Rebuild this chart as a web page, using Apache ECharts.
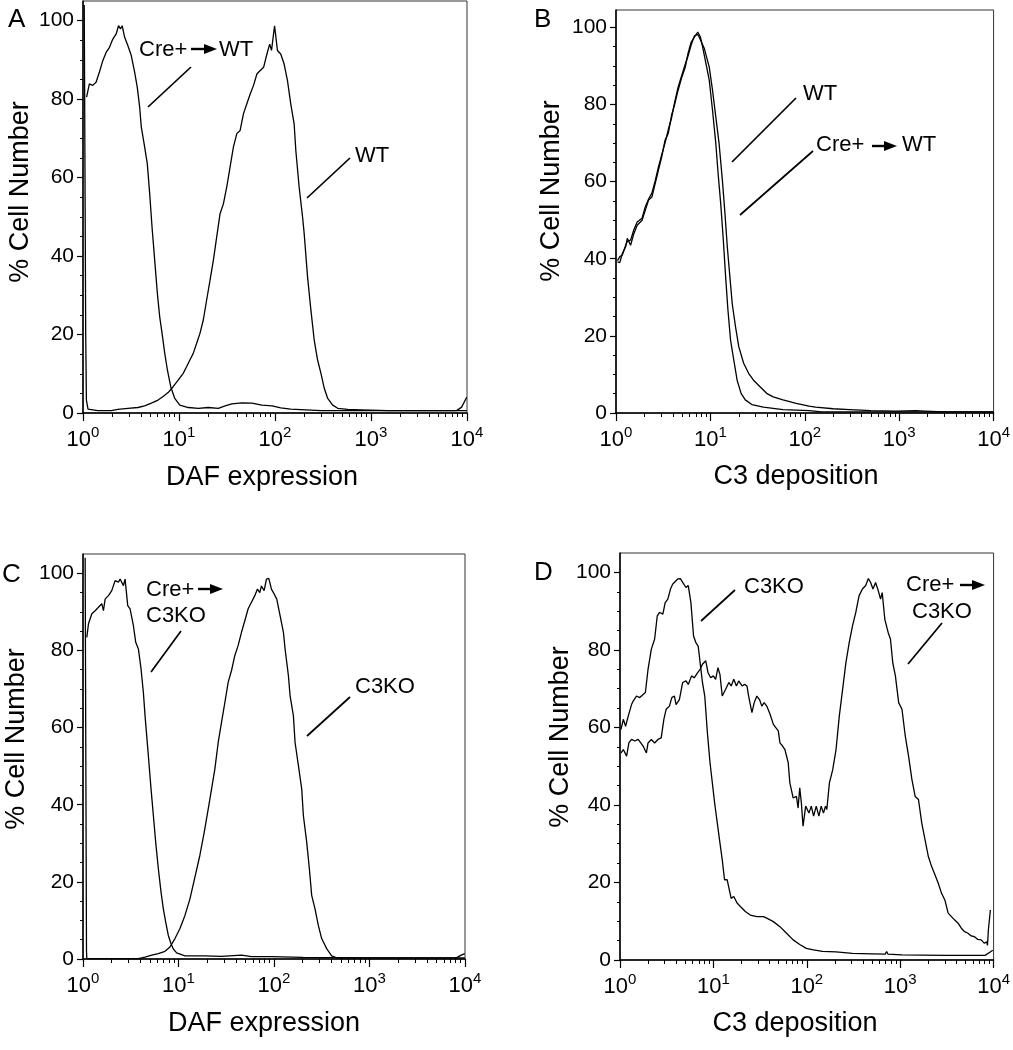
<!DOCTYPE html>
<html><head><meta charset="utf-8">
<script src="https://cdn.jsdelivr.net/npm/echarts@6/dist/echarts.min.js"></script>
<style>html,body{margin:0;padding:0;background:#fff}#c{width:1013px;height:1050px}</style>
</head><body><div id="c"></div><script>
const FONT = "'Liberation Sans', Arial, sans-serif";

// tick values
const xMinorTicks = [2,3,4,5,6,7,8,9,20,30,40,50,60,70,80,90,200,300,400,500,600,700,800,900,2000,3000,4000,5000,6000,7000,8000,9000];
const yMajorTicks = [0,20,40,60,80,100];
const yMinorTicks = [5,10,15,25,30,35,45,50,55,65,70,75,85,90,95];

// texts
const panelLetters = ['A','B','C','D'];
const xTitles = ['DAF expression','C3 deposition','DAF expression','C3 deposition'];
const yTitle = '% Cell Number';

// Panel A
const aCre = [[1.09,80.5],[1.165,83.9],[1.262,83.5],[1.368,84.3],[1.483,86.9],[1.607,89.8],[1.741,91.9],[1.887,93.2],[2.045,95.3],[2.216,96.6],[2.344,98.7],[2.46,97.9],[2.561,98.7],[2.71,95.8],[2.937,93.6],[3.183,91.1],[3.45,86.9],[3.676,83],[3.89,78],[4.046,72.9],[4.386,67.8],[4.677,63.5],[4.95,55.9],[5.236,47.4],[5.585,38.9],[5.955,30.4],[6.295,24.5],[6.664,20.3],[7.106,15.2],[7.578,10.9],[8.204,6.7],[9.036,3.7],[10.2,2.0],[12.5,1.4],[15.9,1.2],[20.2,1.4],[25.7,1.2],[30.2,1.8],[35.5,2.3],[45.1,2.6],[57.4,2.5],[73.1,2.0],[93.1,1.8],[114.7,1.3],[146,1.0],[301,0.6],[1005,0.6],[3357,0.6],[7798,0.6],[8790,1.5],[9930,4.0]];
const aWT = [[1.03,104],[1.067,20],[1.085,3.3],[1.128,1.0],[1.175,0.5],[1.425,0.6],[1.963,0.6],[2.307,0.9],[2.937,1.2],[3.735,1.4],[4.387,1.8],[5.153,2.5],[6.053,3.3],[6.827,4.2],[7.7,5.2],[8.69,6.7],[9.8,8.4],[11.06,10.1],[11.99,11.8],[12.98,13.5],[14.07,15.2],[15.25,17.7],[16.53,20.3],[17.91,23.7],[19.41,28.8],[21.03,33.8],[22.79,38.9],[24.7,44.9],[26.77,50.8],[29.0,53.3],[31.43,57.6],[34.06,62.7],[36.91,67.8],[40.0,71.2],[43.34,72.0],[46.97,76.3],[50.9,78.8],[55.16,81.3],[59.77,83.5],[64.77,86.4],[70.19,87.3],[76.06,88.1],[82.4,91.5],[88,94],[92,92.4],[99,98.7],[106,92.4],[114.7,91.5],[124.3,89],[134.9,84.7],[145.9,78.8],[158.2,73.7],[164.8,66.9],[178.4,57.6],[193.6,50],[201.4,45.7],[218.3,34.7],[236.6,26.2],[256.1,18.6],[277.7,13.5],[301,10.1],[326,6.3],[354,3.7],[399,2.0],[450,1.2],[573,0.9],[789,0.8],[1503,0.6],[9950,0.6]];

// Panel B
const bWT = [[1.037,39.2],[1.096,39.0],[1.169,41.4],[1.266,43.1],[1.318,45.3],[1.427,43.5],[1.546,46.5],[1.675,48.7],[1.888,50],[2.045,52.6],[2.215,55.2],[2.399,56],[2.6,59.5],[2.817,63],[3.051,66.4],[3.305,70.7],[3.58,72.5],[3.878,77.2],[4.201,80.2],[4.55,83.7],[4.929,86.7],[5.423,89.7],[5.783,93.2],[6.265,96.2],[6.786,97.5],[7.351,98.8],[7.834,97.5],[8.28,94.9],[8.975,90.6],[9.723,86.3],[10.53,78.5],[11.41,69.9],[12.07,62.1],[12.86,54.3],[13.71,44.8],[14.5,35.3],[15.34,26.7],[16.35,18.9],[17.7,13.7],[19.19,8.5],[21.13,5.1],[23.43,3.4],[27.49,2.2],[36.38,1.5],[58.75,0.9],[111.3,0.6],[150,0.3],[1000,0.3],[9950,0.3]];
const bCre = [[1.037,39.5],[1.096,40.5],[1.169,41],[1.266,43.5],[1.318,44.5],[1.427,44.8],[1.546,47.5],[1.675,49.5],[1.888,50.5],[2.045,53.5],[2.215,55.5],[2.399,57],[2.6,60.2],[2.817,63.8],[3.051,67],[3.305,70],[3.58,73.5],[3.878,76.5],[4.201,80.8],[4.55,84.5],[4.929,87.3],[5.423,90.5],[5.783,92.5],[6.265,95.5],[6.786,97.8],[7.351,98.2],[7.834,96.8],[8.627,94.5],[8.975,94],[9.723,89.7],[10.53,83.7],[11.41,76.8],[12.36,69.9],[13.39,60.4],[14.27,51.7],[15.1,43.1],[16.09,35.3],[17.02,28.4],[18.44,22.4],[19.98,17.2],[22.5,12.9],[25.38,10.3],[28.62,8.5],[33.58,6.8],[39.4,5.1],[46.24,4.2],[58.75,3.4],[80.91,2.5],[111,1.8],[130,1.5],[200,1.1],[298,0.9],[500,0.6],[918,0.5],[1500,0.6],[1888,0.5],[3000,0.3],[9950,0.3]];

// Panel C
const cCre = [[1.096,83.4],[1.141,86.9],[1.237,89.5],[1.34,90.3],[1.452,91.2],[1.573,92.1],[1.637,90.3],[1.704,93.3],[1.847,94.2],[2.001,95.5],[2.169,98.1],[2.35,97.7],[2.446,98.5],[2.65,96.8],[2.758,98.5],[2.941,91.6],[3.111,90.8],[3.371,86.4],[3.566,82.1],[3.802,80.4],[4.054,75.2],[4.288,69.1],[4.463,63.1],[4.645,57.9],[4.835,52.7],[5.157,44.1],[5.455,37.2],[5.768,30.3],[6.151,23.4],[6.558,17.4],[6.937,13],[7.337,9.6],[7.823,6.1],[8.341,4.0],[8.824,2.6],[9.561,1.6],[11.68,0.8],[18.91,0.8],[28.23,0.7],[45.66,1.0],[58.08,0.6],[94,0.6],[200,0.4],[1000,0.3],[8125,0.3],[8803,0.8],[9929,1.4]];
const cKO = [[1.053,104],[1.088,2],[1.096,0.1],[2,0.1],[3.8,0.1],[4.463,0.5],[5.24,1.0],[6.15,1.4],[7.22,2.0],[8.14,3.1],[9.183,5.3],[10.36,7.9],[11.68,11.3],[13.18,15.6],[14.86,21.2],[16.75,26.9],[18.61,32.9],[20.48,38.9],[22.2,44.1],[24.04,49.3],[26.06,56.2],[28.23,61.4],[30.59,66.5],[33.14,71.8],[35.92,74.8],[38.9,78.7],[42.15,81.3],[45.66,84.7],[49.48,87.7],[53.61,90.8],[58.08,92.5],[62.95,94.2],[67.12,95.9],[71.0,95],[73.9,96.7],[78.8,95.5],[83.4,98.5],[88.2,98.7],[94.0,95.9],[98.6,95],[106.9,93.3],[115.8,89],[125.5,84.7],[130.6,80.4],[141.5,73.5],[147.3,68.3],[159.6,63.1],[166.1,56.2],[180,50.2],[195.1,44.1],[203,37.2],[220,30.3],[234.6,23.4],[248.1,16.5],[268.8,13],[291.2,8.7],[315.6,5.3],[355.9,2.7],[401.5,0.8],[452.8,0.3],[9950,0.3]];

// Panel D
const dKO = [[1.025,59.5],[1.085,62.1],[1.148,60.3],[1.225,62.9],[1.329,65.9],[1.384,66.8],[1.502,68.1],[1.629,67.7],[1.767,68.5],[1.87,69],[1.996,75],[2.166,80.2],[2.349,82.8],[2.506,88.8],[2.653,89.7],[2.877,89.2],[3.046,92.2],[3.251,93.1],[3.47,95.7],[3.673,97],[3.825,96.6],[4.15,98.3],[4.428,98.4],[4.689,97.4],[5.085,96.1],[5.382,96.6],[5.744,92.2],[6.132,83.6],[6.49,81.9],[6.87,81],[7.211,76.7],[7.634,71.6],[8.082,68.1],[8.625,58.6],[9.204,50.9],[9.743,45.7],[10.31,40.5],[11.01,35.3],[11.75,30.2],[12.43,25.9],[13.16,20.7],[14.05,20.7],[14.63,21.1],[15.49,15.9],[16.53,16.4],[17.93,14.7],[19.45,13.8],[21.97,12.5],[24.82,11.6],[29.2,11.2],[34.36,11.2],[37.27,10.8],[38.82,11.2],[43.85,9.9],[51.59,8.6],[60.71,6.9],[71.42,5.2],[84.03,4.0],[98.86,3.0],[118,2.6],[147,2.2],[205,2.1],[308,1.7],[500,1.6],[690,1.5],[716,2.2],[740,1.5],[1045,1.3],[3000,1.2],[8100,1.2],[9377,2.2],[9800,2.5]];
const dCre = [[1.025,53.4],[1.085,54.3],[1.177,52.6],[1.245,56],[1.329,56.9],[1.442,56.5],[1.564,56.9],[1.669,56],[1.767,55.2],[1.917,53.4],[1.996,56],[2.166,56.9],[2.349,56],[2.548,56.9],[2.762,57.3],[2.948,62.1],[3.122,64.7],[3.386,65.5],[3.585,67.7],[3.825,68.1],[3.984,65.9],[4.322,67.2],[4.689,71.6],[5.085,72],[5.382,71.1],[5.839,73.3],[6.232,72.8],[6.76,74.1],[7.211,75],[7.634,76.3],[8.281,77.2],[8.767,74.1],[9.355,72.8],[9.984,73.3],[10.57,72.4],[11.19,75.4],[11.75,73.7],[12.43,68.1],[13.49,69.8],[14.63,71.6],[15.49,70.7],[16.53,72.4],[17.64,70.7],[18.67,72.0],[20.26,70.7],[21.61,71.1],[22.88,70.7],[23.83,68.1],[25.85,63.8],[27.36,66.4],[29.2,68.1],[31.17,67.2],[32.99,65.5],[34.92,66.4],[37.27,65.5],[40.44,63.4],[43.85,60.8],[46.79,59.9],[49.54,59.1],[51.59,56],[55.06,55.2],[58.29,54.3],[63.23,50.9],[65.85,45.7],[71.42,41.8],[77.46,42.2],[80.68,39.2],[84.03,44.4],[87.51,40.5],[91.14,34.5],[97.27,39.7],[105.5,37.9],[111.7,39.7],[118.2,37.1],[126.2,39.7],[134.7,37.1],[142.6,39.7],[150.9,37.9],[158.5,39.7],[163.7,38.8],[174.7,45.7],[189.5,49.1],[205.6,54.3],[222.9,62.9],[241.8,69.8],[262.3,76.7],[284.5,81.9],[308.6,86.2],[334.7,89.7],[363.1,94],[393.9,95.7],[427.2,96.6],[456,98.4],[482.7,97.4],[510.9,95.7],[545.3,97.4],[582.1,95.3],[616.2,93.1],[641.8,94.8],[684.8,87.9],[742.8,84.5],[786.2,82.8],[832.3,76.7],[888.3,73.3],[963.4,66.4],[1045,64.7],[1133,57.8],[1229,52.6],[1334,46.6],[1446,42.2],[1569,41.4],[1702,35.3],[1846,31],[2002,26.7],[2172,24.1],[2356,22],[2556,19.8],[2773,17.2],[3007,15.5],[3262,12.1],[3538,11.2],[3838,10.3],[4163,9.5],[4515,8.2],[4898,7.3],[5313,6.9],[5763,6.2],[6251,6.0],[6780,5.3],[7355,5.2],[7977,4.3],[8444,4.7],[8600,3.8],[8797,7.8],[9235,12.9]];

const panelSeries = [[aCre, aWT], [bWT, bCre], [cCre, cKO], [dKO, dCre]];

// layout
const grids = [
  {left: 83, top: 1, width: 384, height: 412},
  {left: 616, top: 10, width: 383, height: 403},
  {left: 83, top: 554, width: 382, height: 405},
  {left: 620, top: 553, width: 378, height: 407}
];
const yMax = [105, 104.5, 105, 105];

const chart = echarts.init(document.getElementById('c'), null, {renderer: 'canvas'});

const option = {
  animation: false,
  backgroundColor: '#fff',
  grid: [], xAxis: [], yAxis: [], series: [],
  graphic: {elements: []}
};

grids.forEach((g, i) => {
  option.grid.push(Object.assign({show: true, borderColor: '#333', borderWidth: 1, backgroundColor: 'transparent'}, g));
  option.xAxis.push({
    type: 'log', logBase: 10, min: 1, max: 10000, gridIndex: i, position: 'bottom',
    axisLine: {show: true, lineStyle: {color: '#000', width: 1.5}},
    axisTick: {show: true, inside: false, length: 8, lineStyle: {color: '#000', width: 1.2}},
    splitLine: {show: false}, minorTick: {show: false},
    axisLabel: {
      show: true, margin: 12,
      formatter: v => '{b|10}{s|' + Math.round(Math.log10(v)) + '}',
      rich: {
        b: {fontSize: 22, fontFamily: FONT, color: '#000', verticalAlign: 'bottom', lineHeight: 26},
        s: {fontSize: 15, fontFamily: FONT, color: '#000', verticalAlign: 'top', lineHeight: 15}
      }
    }
  });
  option.xAxis.push({
    type: 'log', logBase: 10, min: 1, max: 10000, gridIndex: i, position: 'bottom',
    axisLine: {show: false}, axisLabel: {show: false}, splitLine: {show: false},
    axisTick: {show: true, inside: false, length: 4, customValues: xMinorTicks, lineStyle: {color: '#000', width: 1}}
  });
  option.yAxis.push({
    type: 'value', min: 0, max: yMax[i], interval: 20, gridIndex: i, position: 'left',
    axisLine: {show: true, lineStyle: {color: '#000', width: 1.5}},
    axisTick: {show: true, length: 6, customValues: yMajorTicks, lineStyle: {color: '#000', width: 1.2}},
    axisLabel: {show: true, customValues: yMajorTicks, margin: 9, fontSize: 21, fontFamily: FONT, color: '#000'},
    splitLine: {show: false}
  });
  option.yAxis.push({
    type: 'value', min: 0, max: yMax[i], interval: 20, gridIndex: i, position: 'left',
    axisLine: {show: false}, axisLabel: {show: false}, splitLine: {show: false},
    axisTick: {show: true, length: 3, customValues: yMinorTicks, lineStyle: {color: '#000', width: 1}}
  });
  panelSeries[i].forEach(d => {
    option.series.push({
      type: 'line', xAxisIndex: 2 * i, yAxisIndex: 2 * i, data: d,
      showSymbol: false, symbol: 'none', silent: true, clip: true,
      lineStyle: {color: '#000', width: 1.3}
    });
  });
});

const G = option.graphic.elements;
function txt(t, x, y, size, align, rot) {
  G.push({type: 'text', x: x, y: y, rotation: rot || 0, silent: true,
    style: {text: t, font: size + 'px ' + FONT, fill: '#000',
      textAlign: align || 'left', textVerticalAlign: 'middle', align: align || 'left', verticalAlign: 'middle'}});
}
function ln(x1, y1, x2, y2, w) {
  G.push({type: 'line', silent: true, shape: {x1, y1, x2, y2}, style: {stroke: '#000', lineWidth: w || 1.7}});
}
function arrow(x1, x2, y) {
  ln(x1, y, x2 - 10, y, 2.4);
  G.push({type: 'polygon', silent: true, shape: {points: [[x2 - 13, y - 5], [x2, y], [x2 - 13, y + 5]]}, style: {fill: '#000'}});
}

// panel letters
txt(panelLetters[0], 8, 20, 26);
txt(panelLetters[1], 534, 20, 26);
txt(panelLetters[2], 2, 575, 26);
txt(panelLetters[3], 534, 573, 26);

// axis titles
const yTitlePos = [[21, 192], [552, 191], [17, 739], [561, 737]];
const xTitlePos = [[262, 478], [796, 477], [264, 1024], [795, 1024]];
yTitlePos.forEach(p => txt(yTitle, p[0], p[1], 27, 'center', Math.PI / 2));
xTitlePos.forEach((p, i) => txt(xTitles[i], p[0], p[1], 27, 'center'));

// annotations A
txt('Cre+', 139, 50, 22); arrow(191, 217, 49); txt('WT', 219, 50, 22);
ln(191, 67, 148, 107);
txt('WT', 355, 156, 22); ln(350, 158, 307, 198);
// B
txt('WT', 803, 94, 22); ln(796, 98, 732, 162);
txt('Cre+', 816, 145, 22); arrow(872, 897, 146); txt('WT', 902, 145, 22);
ln(813, 151, 740, 215);
// C
txt('Cre+', 146, 590, 22); arrow(198, 223, 589);
txt('C3KO', 146, 616, 22); ln(181, 631, 151, 672);
txt('C3KO', 355, 687, 22); ln(350, 697, 307, 736);
// D
txt('C3KO', 744, 587, 22); ln(735, 590, 701, 621);
txt('Cre+', 906, 585, 22); arrow(960, 985, 585);
txt('C3KO', 912, 612, 22); ln(942, 623, 908, 664);

chart.setOption(option);
</script></body></html>
